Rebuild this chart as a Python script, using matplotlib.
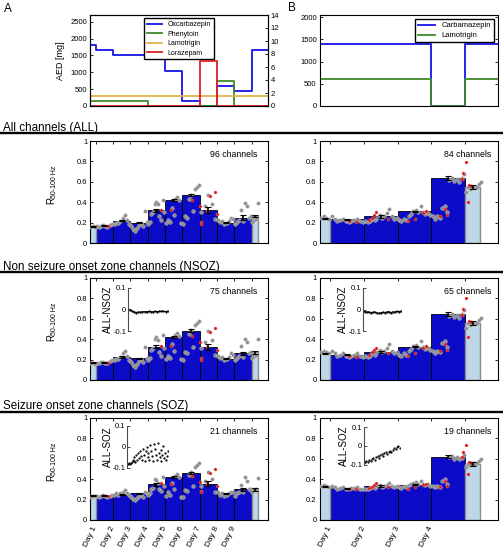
import numpy as np
import matplotlib as mpl
mpl.use('Agg')
import matplotlib.pyplot as plt
from matplotlib.lines import Line2D

plt.rcParams['font.family'] = ['Liberation Sans', 'DejaVu Sans']
plt.rcParams['xtick.direction'] = 'in'
plt.rcParams['ytick.direction'] = 'in'
plt.rcParams['axes.linewidth'] = 0.8

# ---------------- data ----------------
# AED doses, step changes (time in days)
oxc_t = [-0.35, 0, 1, 4, 5, 6, 7, 8, 9, 9.95]
oxc_v = [1800, 1650, 1500, 1050, 150, 0, 600, 450, 1650, 1650]
phe_t = [-0.35, 3, 7, 8, 9.95]
phe_v = [150, 0, 750, 0, 0]
lam_a_t = [-0.35, 9.95]
lam_a_v = [300, 300]
lor_t = [-0.35, 6, 7, 9.95]
lor_v = [0, 7, 0, 0]          # right axis

carb_t = [-0.35, 3, 4, 4.96]
carb_v = [1400, 0, 1400, 1400]
lam_b_t = [-0.35, 3, 4, 4.96]
lam_b_v = [600, 0, 600, 600]

days_a = ['Day 1', 'Day 2', 'Day 3', 'Day 4', 'Day 5', 'Day 6', 'Day 7', 'Day 8', 'Day 9']
days_b = ['Day 1', 'Day 2', 'Day 3', 'Day 4']

# time spans of the light (baseline) bars: before and after the days
pre_a, post_a = (-0.35, 0.0), (9.0, 9.35)
pre_b, post_b = (-0.35, 0.0), (4.0, 4.45)
# time spans over which the pre/post samples were taken
pre_pts_a, post_pts_a = (-0.3, 0.0), (9.0, 9.4)
pre_pts_b, post_pts_b = (-0.3, 0.0), (4.0, 4.5)

n_chan = {'all_a': 96, 'all_b': 84, 'nsoz_a': 75, 'nsoz_b': 65, 'soz_a': 21, 'soz_b': 19}

# mean R per day, errors, and baseline bars (pre, post)
all_a_bars = [0.17, 0.22, 0.20, 0.32, 0.42, 0.47, 0.32, 0.20, 0.25]
all_a_err = [0.004, 0.006, 0.005, 0.012, 0.008, 0.012, 0.03, 0.004, 0.02]
all_a_base = [0.165, 0.265]
all_a_base_err = [0.004, 0.012]
nsoz_a_bars = [0.175, 0.225, 0.215, 0.325, 0.42, 0.485, 0.325, 0.21, 0.26]
nsoz_a_err = [0.004, 0.006, 0.005, 0.015, 0.008, 0.012, 0.03, 0.005, 0.018]
nsoz_a_base = [0.17, 0.27]
nsoz_a_base_err = [0.004, 0.012]
soz_a_bars = [0.24, 0.25, 0.26, 0.35, 0.42, 0.46, 0.355, 0.26, 0.30]
soz_a_err = [0.004, 0.005, 0.005, 0.012, 0.008, 0.012, 0.025, 0.005, 0.015]
soz_a_base = [0.24, 0.30]
soz_a_base_err = [0.004, 0.012]

all_b_bars = [0.234, 0.26, 0.31, 0.636]
all_b_err = [0.004, 0.01, 0.005, 0.02]
all_b_base = [0.24, 0.545]
all_b_base_err = [0.004, 0.02]
nsoz_b_bars = [0.25, 0.273, 0.326, 0.651]
nsoz_b_err = [0.004, 0.01, 0.005, 0.02]
nsoz_b_base = [0.26, 0.556]
nsoz_b_base_err = [0.004, 0.02]
soz_b_bars = [0.31, 0.33, 0.347, 0.62]
soz_b_err = [0.004, 0.01, 0.005, 0.015]
soz_b_base = [0.325, 0.548]
soz_b_base_err = [0.004, 0.02]

# single samples (grey), per segment: pre, day 1..n, post
gray_all_a = [
    [0.16, 0.17, 0.16],
    [0.17, 0.16, 0.17, 0.18, 0.17, 0.16, 0.18, 0.19],
    [0.19, 0.20, 0.20, 0.22, 0.25, 0.27, 0.23, 0.19],
    [0.17, 0.14, 0.12, 0.15, 0.18, 0.20, 0.17, 0.31, 0.21],
    [0.19, 0.21, 0.28, 0.30, 0.38, 0.40, 0.38, 0.26, 0.23, 0.42, 0.30],
    [0.20, 0.23, 0.21, 0.34, 0.27, 0.43, 0.45, 0.42, 0.20],
    [0.19, 0.26, 0.25, 0.43, 0.47, 0.31, 0.53, 0.55, 0.57],
    [0.30, 0.36, 0.47, 0.38, 0.24],
    [0.23, 0.21, 0.22, 0.19, 0.20, 0.22, 0.25, 0.24],
    [0.19, 0.21, 0.23, 0.32, 0.22, 0.39, 0.36, 0.25, 0.26],
    [0.21, 0.23, 0.24, 0.39],
]
gray_nsoz_a = [
    [0.17, 0.17, 0.16],
    [0.17, 0.17, 0.18, 0.18, 0.17, 0.17, 0.19, 0.20],
    [0.20, 0.21, 0.21, 0.23, 0.26, 0.28, 0.24, 0.20],
    [0.18, 0.15, 0.13, 0.16, 0.19, 0.21, 0.18, 0.32, 0.22],
    [0.20, 0.22, 0.29, 0.31, 0.40, 0.42, 0.39, 0.27, 0.24, 0.44, 0.31],
    [0.21, 0.24, 0.22, 0.35, 0.28, 0.44, 0.46, 0.43, 0.21],
    [0.20, 0.27, 0.26, 0.45, 0.49, 0.32, 0.54, 0.56, 0.58],
    [0.31, 0.37, 0.48, 0.39, 0.25],
    [0.24, 0.22, 0.23, 0.20, 0.21, 0.23, 0.26, 0.25],
    [0.20, 0.22, 0.24, 0.33, 0.23, 0.40, 0.37, 0.26, 0.27],
    [0.22, 0.24, 0.25, 0.40],
]
gray_soz_a = [
    [0.23, 0.24, 0.24],
    [0.24, 0.23, 0.24, 0.25, 0.24, 0.23, 0.24, 0.25],
    [0.25, 0.26, 0.25, 0.26, 0.27, 0.29, 0.26, 0.25],
    [0.23, 0.21, 0.20, 0.22, 0.24, 0.25, 0.23, 0.27, 0.26],
    [0.25, 0.26, 0.30, 0.31, 0.40, 0.39, 0.36, 0.30, 0.28, 0.42, 0.33],
    [0.24, 0.27, 0.25, 0.36, 0.30, 0.43, 0.45, 0.42, 0.23],
    [0.23, 0.29, 0.28, 0.44, 0.47, 0.33, 0.52, 0.54, 0.56],
    [0.33, 0.38, 0.47, 0.40, 0.27],
    [0.27, 0.25, 0.26, 0.24, 0.25, 0.26, 0.27, 0.27],
    [0.24, 0.26, 0.27, 0.34, 0.27, 0.42, 0.38, 0.30, 0.30],
    [0.27, 0.29, 0.30, 0.41],
]
gray_all_b = [
    [0.25, 0.26, 0.25, 0.24],
    [0.26, 0.24, 0.22, 0.23, 0.24, 0.22, 0.21, 0.22, 0.23, 0.24, 0.22, 0.21],
    [0.22, 0.21, 0.22, 0.24, 0.23, 0.25, 0.27, 0.25, 0.26, 0.29, 0.33, 0.26, 0.24, 0.25],
    [0.23, 0.22, 0.24, 0.23, 0.26, 0.28, 0.31, 0.32, 0.30, 0.36, 0.30, 0.28, 0.29, 0.27],
    [0.26, 0.24, 0.26, 0.25, 0.34, 0.36, 0.30, 0.62, 0.64, 0.61, 0.63, 0.60, 0.64, 0.68],
    [0.50, 0.55, 0.53, 0.55, 0.54, 0.55, 0.58, 0.60],
]
gray_nsoz_b = [
    [0.27, 0.28, 0.27, 0.26],
    [0.28, 0.26, 0.24, 0.25, 0.26, 0.24, 0.23, 0.24, 0.25, 0.26, 0.24, 0.23],
    [0.24, 0.23, 0.24, 0.26, 0.25, 0.27, 0.29, 0.27, 0.28, 0.31, 0.35, 0.28, 0.26, 0.27],
    [0.25, 0.24, 0.26, 0.25, 0.28, 0.30, 0.33, 0.34, 0.32, 0.38, 0.32, 0.30, 0.31, 0.29],
    [0.28, 0.26, 0.28, 0.27, 0.36, 0.38, 0.32, 0.63, 0.65, 0.62, 0.64, 0.61, 0.65, 0.69],
    [0.51, 0.56, 0.54, 0.56, 0.55, 0.56, 0.59, 0.61],
]
gray_soz_b = [
    [0.33, 0.34, 0.33, 0.32],
    [0.33, 0.32, 0.30, 0.31, 0.32, 0.30, 0.30, 0.31, 0.31, 0.32, 0.30, 0.30],
    [0.30, 0.30, 0.31, 0.32, 0.31, 0.33, 0.34, 0.32, 0.33, 0.34, 0.36, 0.33, 0.32, 0.33],
    [0.32, 0.31, 0.33, 0.32, 0.34, 0.35, 0.36, 0.37, 0.35, 0.38, 0.35, 0.34, 0.35, 0.33],
    [0.33, 0.32, 0.33, 0.32, 0.38, 0.40, 0.35, 0.62, 0.63, 0.60, 0.62, 0.60, 0.61, 0.64],
    [0.52, 0.55, 0.54, 0.56, 0.55, 0.56, 0.58, 0.60],
]

# samples around seizures (red)
red_a_x = [0.7, 3.75, 4.35, 5.58, 6.02, 6.06, 6.1, 6.44, 6.6, 6.87, 6.99]
red_all_a_y = [0.165, 0.32, 0.32, 0.42, 0.36, 0.21, 0.19, 0.31, 0.46, 0.50, 0.28]
red_nsoz_a_y = [0.17, 0.33, 0.33, 0.43, 0.37, 0.22, 0.20, 0.32, 0.47, 0.51, 0.29]
red_soz_a_y = [0.24, 0.36, 0.35, 0.43, 0.37, 0.28, 0.27, 0.35, 0.46, 0.50, 0.33]
red_b_x = [0.55, 0.75, 1.15, 1.25, 1.3, 1.35, 1.7, 2.3, 2.5, 2.75, 2.85, 3.25, 3.4, 3.45,
           3.9, 3.95, 4.02, 4.08, 4.12, 4.18]
red_all_b_y = [0.22, 0.21, 0.23, 0.25, 0.27, 0.30, 0.24, 0.22, 0.24, 0.29, 0.31, 0.26, 0.33, 0.27,
               0.63, 0.69, 0.79, 0.40, 0.57, 0.56]
red_nsoz_b_y = [0.24, 0.23, 0.25, 0.27, 0.29, 0.31, 0.26, 0.24, 0.26, 0.31, 0.33, 0.28, 0.35, 0.29,
                0.64, 0.70, 0.80, 0.42, 0.58, 0.57]
red_soz_b_y = [0.30, 0.30, 0.31, 0.32, 0.34, 0.36, 0.32, 0.30, 0.32, 0.34, 0.35, 0.32, 0.38, 0.33,
               0.62, 0.67, 0.74, 0.45, 0.57, 0.56]

# inset differences
diff_nsoz_a = [0.0, -0.005, -0.008, -0.012, -0.015, -0.013, -0.014, -0.012, -0.011, -0.012,
               -0.010, -0.011, -0.012, -0.010, -0.011, -0.010, -0.009, -0.010, -0.011, -0.009]
diff_nsoz_b = [-0.008, -0.010, -0.012, -0.011, -0.015, -0.013, -0.012, -0.016, -0.018, -0.015,
               -0.013, -0.014, -0.012, -0.010, -0.015, -0.011, -0.012, -0.009, -0.010, -0.008]
diff_soz_a = [-0.08, -0.08, -0.078, -0.08, -0.075, -0.07, -0.06, -0.065, -0.05, -0.07, -0.04,
              -0.06, -0.03, -0.055, -0.02, -0.045, -0.06, -0.01, -0.04, -0.065, -0.02, 0.0,
              -0.05, -0.03, -0.06, 0.01, -0.02, -0.045, -0.065, 0.015, -0.01, -0.04, -0.06,
              0.02, -0.03, -0.05, -0.015, -0.065, -0.04, 0.005, -0.055, -0.03, -0.06, -0.045, -0.02]
diff_soz_b = [-0.09, -0.085, -0.08, -0.088, -0.075, -0.08, -0.07, -0.065, -0.075, -0.06, -0.055,
              -0.065, -0.05, -0.045, -0.055, -0.04, -0.03, -0.045, -0.035, -0.025, -0.03, -0.02,
              -0.01, -0.015, -0.005, 0.0, -0.01]

DARK = '#0b0bc8'
LIGHT = '#bdd7e7'
TICK_FS = 5.5


def px(y):
    return 1 - y / 550.0


def seg_x(lo, hi, n):
    return [lo + (i + 0.5) * (hi - lo) / n for i in range(n)]


def bar_panel(ax, bars, err, base, base_err, gray, red_x, red_y, pre, post, pre_pts, post_pts,
              xlim, days, show_labels, nch, txt_x):
    n = len(bars)
    ax.bar(range(n), bars, width=1, align='edge', color=DARK, edgecolor='k', lw=0.6, zorder=2)
    ax.bar([pre[0], post[0]], base, width=[pre[1] - pre[0], post[1] - post[0]], align='edge',
           color=LIGHT, edgecolor='0.55', lw=1.0, zorder=2)
    xs, ys = [], []
    spans = [pre_pts] + [(i, i + 1) for i in range(n)] + [post_pts]
    for (lo, hi), vals in zip(spans, gray):
        xs += seg_x(lo, hi, len(vals))
        ys += vals
    ax.scatter(xs, ys, s=7, c='0.55', edgecolors='0.8', linewidths=0.3, zorder=3)
    ax.scatter(red_x, red_y, s=5, c='#d81818', edgecolors='#f08080', linewidths=0.25, zorder=3)
    cx = [i + 0.5 for i in range(n)] + [(max(pre[0], xlim[0]) + pre[1]) / 2, (post[0] + post[1]) / 2]
    ax.errorbar(cx, list(bars) + list(base), yerr=list(err) + list(base_err), fmt='none',
                ecolor='k', elinewidth=1.2, capsize=2, capthick=0.8, zorder=4)
    ax.set_xlim(*xlim)
    ax.set_ylim(0, 1)
    ax.set_yticks([0, 0.2, 0.4, 0.6, 0.8, 1])
    ax.set_yticklabels(['0', '0.2', '0.4', '0.6', '0.8', '1'])
    ax.set_xticks(range(n + 1))
    if show_labels:
        ax.set_xticklabels(days + [''], rotation=65, ha='right', va='center', rotation_mode='anchor')
    else:
        ax.set_xticklabels([])
    ax.tick_params(top=True, right=True, length=2.5, width=0.6, labelsize=TICK_FS, pad=2)
    ax.tick_params(axis='x', labelsize=6, pad=5)
    ax.text(txt_x, 0.87, '%d channels' % nch, transform=ax.transAxes, ha='right', va='center',
            fontsize=6.3)


def inset(rect, vals, t0, t1, label, line):
    ia = fig.add_axes(rect, facecolor='none')
    t = np.linspace(t0, t1, len(vals))
    if line:
        ia.plot(t, vals, color='k', lw=0.8, marker='.', ms=1.2)
    else:
        ia.plot(t, vals, 'k.', ms=1.2)
    ia.set_ylim(-0.1, 0.1)
    ia.set_xlim(t0, t1)
    for s in ['top', 'right', 'bottom']:
        ia.spines[s].set_visible(False)
    ia.spines['left'].set_color('0.3')
    ia.set_xticks([])
    ia.set_yticks([-0.1, 0, 0.1])
    ia.set_yticklabels(['-0.1', '0', '0.1'])
    ia.tick_params(labelsize=TICK_FS, length=2, width=0.5, pad=1)
    ia.set_ylabel(label, fontsize=7, labelpad=0)


fig = plt.figure(figsize=(5.03, 5.5), dpi=100)
LX, RX, W = 90 / 503.0, 319.5 / 503.0, 178 / 503.0

# ---- top AED panels ----
axA = fig.add_axes([LX, px(106), W, 91 / 550.0])
axA.step(oxc_t, oxc_v, where='post', color='#1414e6', lw=1.3, label='Oxcarbazepin')
axA.step(phe_t, phe_v, where='post', color='#3f8a2a', lw=1.3, label='Phenytoin')
axA.step(lam_a_t, lam_a_v, where='post', color='#e3b34c', lw=1.3, label='Lamotrigin')
axA2 = axA.twinx()
axA2.step(lor_t, lor_v, where='post', color='#dc2020', lw=1.3)
axA.plot([], [], color='#dc2020', lw=1.3, label='Lorazepam')
axA.set_xlim(-0.32, 9.95)
axA.set_ylim(0, 2700)
axA.set_yticks([0, 500, 1000, 1500, 2000, 2500])
axA2.set_ylim(0, 14)
axA2.set_yticks(range(0, 15, 2))
axA.set_xticks([])
axA.set_ylabel('AED [mg]', fontsize=6.5, labelpad=4)
axA.tick_params(labelsize=TICK_FS, length=2.5, width=0.6, pad=2)
axA2.tick_params(labelsize=TICK_FS, length=2.5, width=0.6, pad=2)
axA.legend(loc='upper center', fontsize=5, frameon=True, fancybox=False, edgecolor='k',
           framealpha=1, handlelength=2.2, borderpad=0.4, labelspacing=0.35,
           bbox_to_anchor=(0.5, 1.0))

axB = fig.add_axes([RX, px(106), W, 91 / 550.0])
axB.step(carb_t, carb_v, where='post', color='#1414e6', lw=1.3, label='Carbamazepin')
axB.step(lam_b_t, lam_b_v, where='post', color='#3f8a2a', lw=1.3, label='Lamotrigin')
axB.set_xlim(-0.32, 4.96)
axB.set_ylim(0, 2050)
axB.set_yticks([0, 500, 1000, 1500, 2000])
axB.set_xticks([])
axB.tick_params(labelsize=TICK_FS, length=2.5, width=0.6, pad=2, right=True)
axB.legend(loc='upper right', fontsize=5.5, frameon=True, fancybox=False, edgecolor='k',
           framealpha=1, handlelength=2.2, borderpad=0.4, labelspacing=0.35)

fig.text(8 / 503.0, px(9), 'A', fontsize=8.5, ha='center', va='center')
fig.text(292 / 503.0, px(8), 'B', fontsize=8.5, ha='center', va='center')

# ---- bar rows ----
headings = ['All channels (ALL)', 'Non seizure onset zone channels (NSOZ)',
            'Seizure onset zone channels (SOZ)']
line_y = [133, 272, 411.5]
row_bottom = [243, 380, 520]
rows = [
    (all_a_bars, all_a_err, all_a_base, all_a_base_err, gray_all_a, red_all_a_y,
     all_b_bars, all_b_err, all_b_base, all_b_base_err, gray_all_b, red_all_b_y, 'all'),
    (nsoz_a_bars, nsoz_a_err, nsoz_a_base, nsoz_a_base_err, gray_nsoz_a, red_nsoz_a_y,
     nsoz_b_bars, nsoz_b_err, nsoz_b_base, nsoz_b_base_err, gray_nsoz_b, red_nsoz_b_y, 'nsoz'),
    (soz_a_bars, soz_a_err, soz_a_base, soz_a_base_err, gray_soz_a, red_soz_a_y,
     soz_b_bars, soz_b_err, soz_b_base, soz_b_base_err, gray_soz_b, red_soz_b_y, 'soz'),
]
for r, row in enumerate(rows):
    (ba, ea, bsa, bsea, ga, rya, bb, eb, bsb, bseb, gb, ryb, key) = row
    fig.add_artist(Line2D([0, 1], [px(line_y[r])] * 2, color='k', lw=1.7))
    fig.text(3 / 503.0, px(line_y[r] - 2), headings[r], fontsize=8.4, va='baseline')
    last = (r == 2)
    ax1 = fig.add_axes([LX, px(row_bottom[r]), W, 102 / 550.0])
    bar_panel(ax1, ba, ea, bsa, bsea, ga, red_a_x, rya, pre_a, post_a, pre_pts_a, post_pts_a,
              (-0.32, 9.95), days_a, last, n_chan[key + '_a'], 0.94)
    ax1.text(-0.215, 0.42, 'R', transform=ax1.transAxes, rotation=90, fontsize=7,
             ha='center', va='center')
    ax1.text(-0.2, 0.6, '50-100 Hz', transform=ax1.transAxes, rotation=90, fontsize=5,
             ha='center', va='center')
    ax2 = fig.add_axes([RX, px(row_bottom[r]), W, 102 / 550.0])
    bar_panel(ax2, bb, eb, bsb, bseb, gb, red_b_x, ryb, pre_b, post_b, pre_pts_b, post_pts_b,
              (-0.32, 4.96), days_b, last, n_chan[key + '_b'], 0.967)

# ---- insets ----
inset([127.7 / 503, px(331), 40 / 503.0, 43.5 / 550], diff_nsoz_a, -0.3, 9.4, 'ALL-NSOZ', True)
inset([362.7 / 503, px(331), 38 / 503.0, 43 / 550], diff_nsoz_b, -0.3, 4.5, 'ALL-NSOZ', True)
inset([127.0 / 503, px(468), 41 / 503.0, 42.3 / 550], diff_soz_a, -0.3, 9.4, 'ALL-SOZ', False)
inset([363.7 / 503, px(464.7), 36 / 503.0, 37.7 / 550], diff_soz_b, -0.3, 4.5, 'ALL-SOZ', False)

plt.savefig('out.png', dpi=100)
